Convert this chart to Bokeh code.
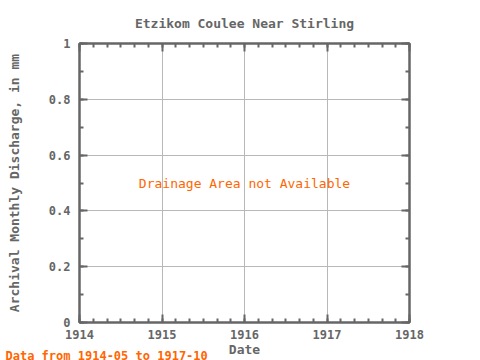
from bokeh.plotting import figure
from bokeh.models import Range1d, FixedTicker, LinearAxis, Title, ColumnDataSource
from bokeh.core.properties import value
from bokeh.embed import file_html
from bokeh.resources import INLINE

title_text = "Etzikom Coulee Near Stirling"
x_label = "Date"
y_label = "Archival Monthly Discharge, in mm"
footer_text = "Data from 1914-05 to 1917-10"
x_ticks = [1914, 1915, 1916, 1917, 1918]
x_minor = [1914 + k / 6 for k in range(0, 25)]
y_ticks = [0, 0.2, 0.4, 0.6, 0.8, 1.0]
y_tick_labels = ["0", "0.2", "0.4", "0.6", "0.8", "1"]
y_minor = [k / 10 for k in range(0, 11)]
note_x = [1916]
note_y = [0.5]
note_text = ["Drainage Area not Available"]

FONT = "DejaVu Sans Mono"
GREY = "#666666"
ORANGE = "#ff6600"

p = figure(width=480, height=360, output_backend="svg", toolbar_location=None,
           x_range=Range1d(1914, 1918), y_range=Range1d(0, 1),
           min_border_left=79, min_border_right=71, min_border_top=43, min_border_bottom=38,
           x_axis_label=x_label, y_axis_label=y_label)

p.title.text = title_text
p.title.align = "center"
p.title.text_font = FONT
p.title.text_font_size = "13px"
p.title.text_color = GREY
p.title.text_font_style = "bold"
p.title.standoff = 25

p.outline_line_color = GREY
p.outline_line_width = 2
p.background_fill_color = "white"
p.border_fill_color = "white"

def style_axis(ax, ticks, minor):
    ax.ticker = FixedTicker(ticks=ticks, minor_ticks=minor)
    ax.axis_line_color = GREY
    ax.axis_line_width = 2
    ax.major_tick_line_color = GREY
    ax.major_tick_line_width = 2
    ax.minor_tick_line_color = GREY
    ax.minor_tick_line_width = 2
    ax.major_tick_in = 8
    ax.major_tick_out = 0
    ax.minor_tick_in = 4
    ax.minor_tick_out = 0
    ax.major_label_text_font = FONT
    ax.major_label_text_font_size = "12px"
    ax.major_label_text_font_style = "bold"
    ax.major_label_text_color = GREY
    ax.axis_label_text_font = FONT
    ax.axis_label_text_font_size = "13px"
    ax.axis_label_text_font_style = "bold"
    ax.axis_label_text_color = GREY

xa = p.xaxis[0]
ya = p.yaxis[0]
style_axis(xa, x_ticks, x_minor)
style_axis(ya, y_ticks, y_minor)
xa.major_label_standoff = 7
xa.axis_label_standoff = 0
ya.major_label_standoff = 9
ya.axis_label_standoff = 24
ya.major_label_overrides = {t: l for t, l in zip(y_ticks, y_tick_labels)}

top = LinearAxis()
style_axis(top, x_ticks, x_minor)
top.major_label_standoff = 0
top.major_label_overrides = {t: "" for t in x_ticks}
p.add_layout(top, "above")
right = LinearAxis()
style_axis(right, y_ticks, y_minor)
right.major_label_standoff = 0
right.major_label_overrides = {t: "" for t in y_ticks}
p.add_layout(right, "right")

p.xgrid.ticker = FixedTicker(ticks=x_ticks)
p.ygrid.ticker = FixedTicker(ticks=y_ticks)
p.xgrid.grid_line_color = "#b8b8b8"
p.ygrid.grid_line_color = "#b8b8b8"
p.xgrid.grid_line_width = 1
p.ygrid.grid_line_width = 1

src = ColumnDataSource(dict(x=note_x, y=note_y, t=note_text))
p.text(x="x", y="y", text="t", source=src, text_align="center", text_baseline="middle",
       text_color=ORANGE, text_font=value(FONT), text_font_size="13px")

footer = Title(text=footer_text, align="left", offset=-74, standoff=-22,
               vertical_align="top",
               text_font=FONT, text_font_size="12px", text_font_style="bold",
               text_color=ORANGE)
p.add_layout(footer, "below")

open("out.html", "w").write(file_html(p, INLINE))
